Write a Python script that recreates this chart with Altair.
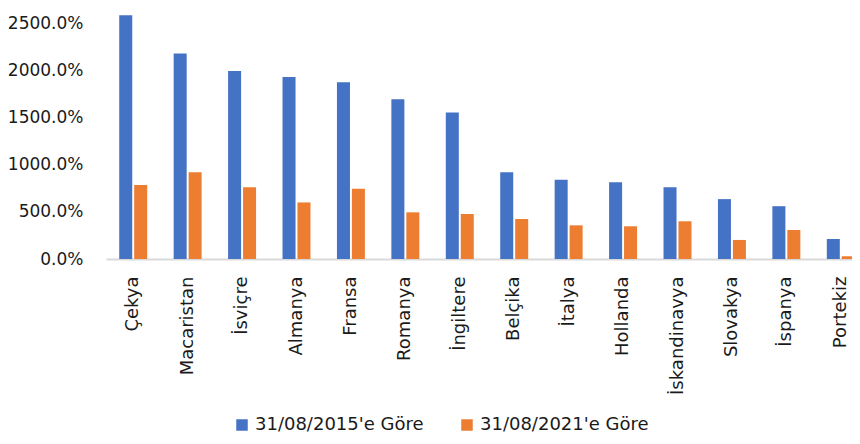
import altair as alt
import pandas as pd

countries = ["Çekya", "Macaristan", "İsviçre", "Almanya", "Fransa", "Romanya", "İngiltere",
             "Belçika", "İtalya", "Hollanda", "İskandinavya", "Slovakya", "İspanya", "Portekiz"]
series_names = ["31/08/2015'e Göre", "31/08/2021'e Göre"]
s2015 = [2585, 2180, 1995, 1930, 1875, 1695, 1555, 920, 840, 815, 760, 635, 560, 212]
s2021 = [785, 920, 760, 600, 745, 495, 477, 424, 357, 347, 400, 202, 308, 29]
y_ticks = [0, 500, 1000, 1500, 2000, 2500]
colors = ["#4472C4", "#ED7D31"]

rows = []
for c, a, b in zip(countries, s2015, s2021):
    rows.append({"ulke": c, "seri": series_names[0], "deger": a})
    rows.append({"ulke": c, "seri": series_names[1], "deger": b})
df = pd.DataFrame(rows)

FONT = "DejaVu Sans"

chart = alt.Chart(df).mark_bar().encode(
    x=alt.X("ulke:N", sort=countries,
            scale=alt.Scale(range=[0, 762], paddingInner=0.486, paddingOuter=0.243),
            axis=alt.Axis(title=None, labelAngle=270, ticks=False, labelPadding=17,
                          domainColor="#d9d9d9", domainWidth=2, labelFontSize=18,
                          labelFont=FONT, labelColor="#1a1a1a", labelLimit=300)),
    xOffset=alt.XOffset("seri:N", sort=series_names,
                        scale=alt.Scale(paddingInner=0.13)),
    y=alt.Y("deger:Q", scale=alt.Scale(domain=[0, 2641], nice=False),
            axis=alt.Axis(title=None, values=y_ticks, grid=False, domain=False, ticks=False,
                          labelPadding=23, labelFontSize=17, labelFont=FONT,
                          labelColor="#1a1a1a",
                          labelExpr="format(datum.value, '.1f') + '%'")),
    color=alt.Color("seri:N", sort=series_names,
                    scale=alt.Scale(domain=series_names, range=colors),
                    legend=alt.Legend(title=None, orient="none", direction="horizontal",
                                      legendX=127, legendY=406, padding=0,
                                      symbolType="square", symbolSize=132,
                                      symbolStrokeWidth=0, labelFontSize=18,
                                      labelFont=FONT, labelColor="#1a1a1a", labelLimit=300,
                                      labelOffset=4, columnPadding=34)),
).properties(
    width=746,
    height=249,
    autosize=alt.AutoSizeParams(type="none"),
    padding={"left": 98, "top": 2, "right": 0, "bottom": 176},
).configure_view(stroke=None)

chart.save("out.html", embed_options={"renderer": "svg", "actions": False})
